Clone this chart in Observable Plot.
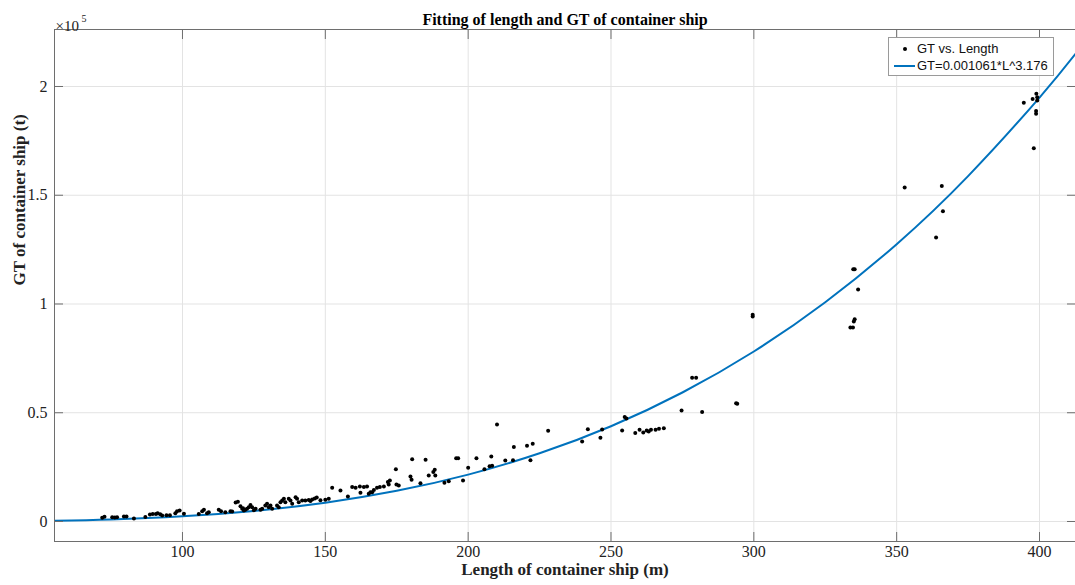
<!DOCTYPE html>
<html>
<head>
<meta charset="utf-8">
<script src="https://cdn.jsdelivr.net/npm/d3@7"></script>
<script src="https://cdn.jsdelivr.net/npm/@observablehq/plot@0.6"></script>
<style>
  html, body { margin: 0; padding: 0; background: #fff; }
  #wrap { position: relative; width: 1075px; height: 585px; }
  #legend { position: absolute; left: 888px; top: 37px; width: 164px; height: 37px;
            border: 1px solid #9a9a9a; background: #fff; font-family: "Liberation Sans", Arial, sans-serif;
            font-size: 13px; color: #111; }
  #legend .row { position: absolute; left: 28px; line-height: 16px; white-space: nowrap; }
  #legend .dot { position: absolute; left: 14px; top: 9px; width: 4px; height: 4px; border-radius: 50%; background: #000; }
  #legend .ln { position: absolute; left: 5px; top: 27px; width: 21px; height: 2px; background: #0072BD; }
</style>
</head>
<body>
<div id="wrap">
  <div id="chart"></div>
  <div id="legend">
    <div class="dot"></div><div class="row" style="top:3px">GT vs. Length</div>
    <div class="ln"></div><div class="row" style="top:20px">GT=0.001061*L^3.176</div>
  </div>
</div>
<script>
// Ship length (m) and gross tonnage (t)
const lengths = [
  71.9, 72.7, 75.4, 76.3, 77.1, 79.5, 80.4, 83.0, 87.0, 88.6, 89.6, 90.7, 91.3, 92.2, 92.9, 94.4, 95.6, 97.5, 98.1, 99.0,
  100.5, 105.7, 106.9, 107.5, 108.6, 109.2, 112.7, 113.5, 115.0, 116.8, 117.4, 118.6, 119.4, 120.3, 120.9, 121.2, 121.5, 122.0, 122.6, 123.2,
  123.8, 124.4, 125.0, 125.6, 127.3, 127.9, 129.0, 129.6, 130.2, 130.8, 131.4, 133.1, 133.7, 134.3, 134.9, 135.5, 136.0, 137.2, 137.8, 138.4,
  139.6, 140.1, 140.7, 141.9, 143.0, 144.2, 144.8, 145.4, 146.3, 147.0, 148.3, 150.0, 151.2, 152.4, 155.3, 157.9, 159.4, 160.6, 162.1, 162.3,
  163.5, 164.6, 165.2, 165.8, 166.4, 167.0, 168.1, 169.1, 170.5, 171.9, 172.2, 172.6, 174.7, 174.9, 175.7, 179.8, 180.2, 180.4, 183.3, 185.1,
  186.2, 187.8, 188.3, 188.5, 191.7, 193.2, 195.8, 196.5, 198.2, 200.0, 202.9, 205.7, 207.5, 208.1, 208.4, 210.1, 213.0, 215.7, 216.0, 220.6,
  221.8, 222.6, 228.0, 239.9, 241.9, 246.3, 246.9, 253.9, 254.8, 255.4, 258.5, 260.0, 261.3, 262.5, 263.2, 264.0, 265.6, 266.8, 268.5, 274.7,
  278.4, 279.8, 281.9, 293.8, 294.2, 299.6, 299.6, 333.8, 334.7, 335.0, 335.3, 334.8, 335.3, 336.5, 352.8, 363.8, 365.8, 366.2, 394.5, 397.6,
  398.9, 399.2, 399.2, 398.8, 398.8, 398.0
];
const tonnage = [
  1700, 2200, 1900, 1800, 2000, 2300, 2300, 1400, 2100, 3200, 3500, 3500, 3800, 3300, 2800, 2900, 2900, 3800, 4700, 5100,
  3600, 3400, 4700, 5400, 3800, 4200, 5400, 4700, 4300, 4700, 4600, 8700, 9100, 7000, 5800, 6100, 5100, 5400, 5800, 6600,
  7600, 6600, 5200, 5800, 5400, 5800, 7400, 8100, 6600, 7400, 5800, 7400, 6600, 8900, 9700, 10400, 8900, 10400, 9700, 8100,
  11200, 10400, 8900, 9700, 9700, 9900, 9400, 10100, 10600, 11000, 9800, 10000, 10400, 15500, 14200, 11500, 15800, 15500, 16100, 13200,
  15800, 16100, 12700, 13500, 13500, 14500, 15500, 15800, 16100, 18100, 17000, 18900, 24000, 17000, 16600, 20700, 19200, 28600, 17600, 28400,
  21100, 22700, 23800, 21200, 17800, 18500, 29100, 29100, 18900, 24700, 29100, 24000, 25400, 29900, 25600, 44600, 28000, 28200, 34200, 34800,
  28200, 35700, 41700, 36800, 42400, 38500, 42300, 41800, 48000, 47300, 40700, 42200, 40900, 41800, 41400, 42200, 42200, 42600, 42900, 51000,
  66100, 66100, 50300, 54400, 54100, 95000, 94300, 89200, 89200, 92000, 93000, 116000, 116000, 106700, 153600, 130600, 154200, 142600, 192500, 194300,
  196700, 193600, 195000, 188700, 187500, 171600
];

// Fitted curve GT = 0.001061*L^3.176
const fitLength = [55.2, 75, 100, 125, 150, 175, 200, 225, 250, 275, 300, 325, 350, 375, 400, 412.6];
const fitGT     = [360, 960, 2390, 4850, 8650, 14100, 21550, 31350, 43800, 59300, 78150, 100800, 127500, 158800, 194900, 215000];

const xTicks = [100, 150, 200, 250, 300, 350, 400];
const yTicks = [0, 50000, 100000, 150000, 200000];

const titleText = "Fitting of length and GT of container ship";
const xLabel = "Length of container ship (m)";
const yLabel = "GT of container ship (t)";

const ships = lengths.map((L, i) => ({L, GT: tonnage[i]}));
const fit = fitLength.map((L, i) => ({L, GT: fitGT[i]}));

const serif = "'Liberation Serif', 'Times New Roman', serif";
const frameColor = "#6e6e6e";
const gridColor = "#e3e3e3";

const chart = Plot.plot({
  width: 1075,
  height: 585,
  marginLeft: 54,
  marginRight: 0,
  marginTop: 29,
  marginBottom: 44,
  style: {fontFamily: serif, background: "#fff", color: "#222"},
  x: {domain: [55.2, 412.6]},
  y: {domain: [-9200, 226200]},
  marks: [
    Plot.gridX(xTicks, {stroke: gridColor, strokeOpacity: 1}),
    Plot.gridY(yTicks, {stroke: gridColor, strokeOpacity: 1}),
    Plot.line(fit, {x: "L", y: "GT", stroke: "#0072BD", strokeWidth: 2, curve: "natural", clip: true}),
    Plot.dot(ships, {x: "L", y: "GT", r: 2, fill: "#000", stroke: null}),
    Plot.frame({stroke: frameColor}),
    Plot.axisX(xTicks, {anchor: "bottom", tickSize: 0, tickPadding: 4, fontSize: 16, label: null}),
    Plot.axisX(xTicks, {anchor: "bottom", tickSize: -9, tickFormat: () => "", label: null, stroke: frameColor}),
    Plot.axisX(xTicks, {anchor: "top", tickSize: -9, tickFormat: () => "", label: null, stroke: frameColor}),
    Plot.axisY(yTicks, {anchor: "left", tickSize: 0, tickPadding: 7, fontSize: 16, label: null, tickFormat: d => String(d / 1e5)}),
    Plot.axisY(yTicks, {anchor: "left", tickSize: -9, tickFormat: () => "", label: null, stroke: frameColor}),
    Plot.axisY(yTicks, {anchor: "right", tickSize: -9, tickFormat: () => "", label: null, stroke: frameColor}),
    Plot.text([titleText], {frameAnchor: "top", dy: -16, fontSize: 16, fontWeight: "bold", fill: "#000"}),
    Plot.text([xLabel], {frameAnchor: "bottom", dy: 33, fontSize: 17, fontWeight: "bold", fill: "#222"}),
    Plot.text([yLabel], {frameAnchor: "left", dx: -35, rotate: -90, fontSize: 17, fontWeight: "bold", fill: "#222"}),
    Plot.text(["\u00d710"], {frameAnchor: "top-left", dx: 1, dy: -9, textAnchor: "start", fontSize: 15, fill: "#222"}),
    Plot.text(["5"], {frameAnchor: "top-left", dx: 27, dy: -15, textAnchor: "start", fontSize: 10, fill: "#222"})
  ]
});
document.getElementById("chart").appendChild(chart);
</script>
</body>
</html>
